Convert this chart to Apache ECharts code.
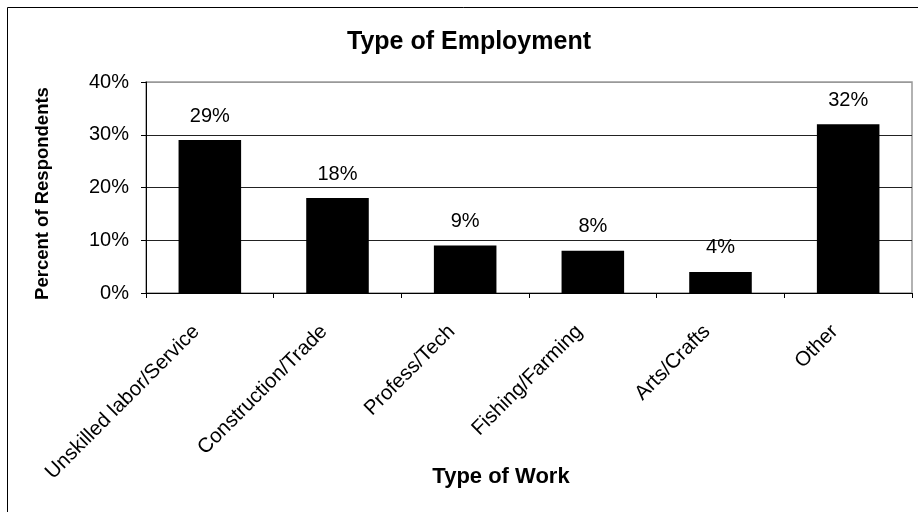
<!DOCTYPE html>
<html>
<head>
<meta charset="utf-8">
<script src="https://cdn.jsdelivr.net/npm/echarts@6/dist/echarts.min.js"></script>
<style>
html,body{margin:0;padding:0;background:#fff;}
#c{width:918px;height:512px;}
</style>
</head>
<body>
<div id="c"></div>
<script>
const categories = ['Unskilled labor/Service','Construction/Trade','Profess/Tech','Fishing/Farming','Arts/Crafts','Other'];
const percentValues = [29, 18, 9, 8, 4, 32];
const yTicks = [0, 10, 20, 30, 40];

const chart = echarts.init(document.getElementById('c'), null, {renderer:'canvas'});
const FONT = '"Liberation Sans", Arial, sans-serif';
chart.setOption({
  animation: false,
  backgroundColor: '#fff',
  title: [
    {text: 'Type of Employment', left: 464, top: 25, textAlign: 'center',
     textStyle: {fontFamily: FONT, fontSize: 25, fontWeight: 'bold', color: '#000'}},
    {text: 'Type of Work', left: 496, top: 461, textAlign: 'center',
     textStyle: {fontFamily: FONT, fontSize: 22, fontWeight: 'bold', color: '#000'}}
  ],
  graphic: [
    {type: 'rect', shape: {x: 7.5, y: 7.5, width: 2000, height: 2000},
     style: {fill: 'none', stroke: '#000', lineWidth: 1}, silent: true, z: 100}
  ],
  grid: {left: 146, top: 82, right: 6, bottom: 219, show: true, borderColor: '#999', borderWidth: 1.5, backgroundColor: 'transparent'},
  xAxis: {
    type: 'category',
    data: categories,
    axisLine: {lineStyle: {color: '#000', width: 1}},
    axisTick: {show: true, length: 5, lineStyle: {color: '#000'}},
    axisLabel: {rotate: 45, margin: 22, padding: [0, 19, 0, 0], fontFamily: FONT, fontSize: 20.5, color: '#000', interval: 0}
  },
  yAxis: {
    type: 'value',
    min: yTicks[0], max: yTicks[yTicks.length - 1], interval: 10,
    name: 'Percent of Respondents',
    nameLocation: 'middle',
    nameGap: 94,
    nameTextStyle: {fontFamily: FONT, fontSize: 18.5, fontWeight: 'bold', color: '#000', padding: [0, 12, 0, 0]},
    axisLine: {show: true, lineStyle: {color: '#000', width: 1}},
    axisTick: {show: true, length: 5, lineStyle: {color: '#000'}},
    axisLabel: {formatter: '{value}%', margin: 17, fontFamily: FONT, fontSize: 20, color: '#000'},
    splitLine: {show: true, lineStyle: {color: ['#000', '#222', '#222', '#222', '#999'], width: 1}}
  },
  series: [{
    type: 'bar',
    data: percentValues,
    barWidth: '49%',
    itemStyle: {color: '#000'},
    label: {show: true, position: 'top', distance: 14, formatter: '{c}%', fontFamily: FONT, fontSize: 20, color: '#000'}
  }]
});
</script>
</body>
</html>
